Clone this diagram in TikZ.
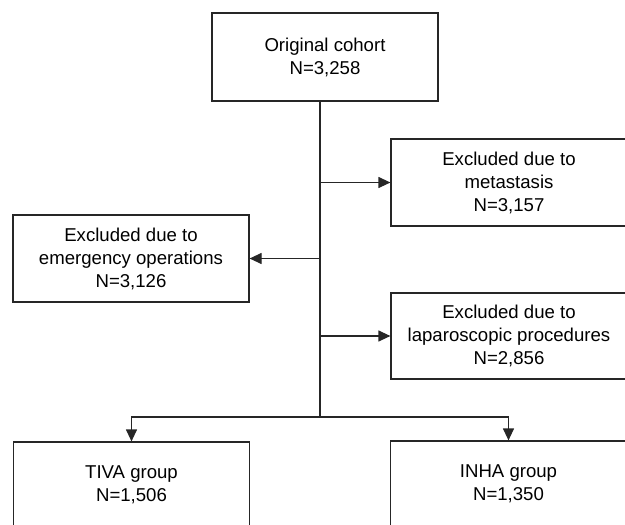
\documentclass[tikz,border=0pt]{standalone}
\usepackage{fontspec}
\setmainfont{Liberation Sans}
\usetikzlibrary{arrows.meta}

\begin{document}
\begin{tikzpicture}[x=1pt,y=-1pt]
\tikzset{
box/.style={draw=black!85,line width=1.2pt,align=center,inner sep=0pt,
  minimum width=236pt,minimum height=87pt,
  font=\fontsize{18.6}{23}\selectfont},
arr/.style={draw=black!85,line width=1.2pt,-{Triangle[length=12pt,width=11pt]}},
ln/.style={draw=black!85,line width=1.2pt}
}
\useasboundingbox (0,0) rectangle (625,525);
\clip (0,0) rectangle (625,525);

\node[box,minimum width=226pt,minimum height=88pt] (orig) at (325,57) {Original cohort\\N=3,258};
\node[box] (meta) at (509,182.5) {Excluded due to\\metastasis\\N=3,157};
\node[box] (emer) at (131,258.5) {Excluded due to\\emergency operations\\N=3,126};
\node[box,minimum height=86pt] (lapa) at (509,336) {Excluded due to\\laparoscopic procedures\\N=2,856};
\node[box,minimum height=86pt] (tiva) at (131.5,485) {TIVA group\\N=1,506};
\node[box,minimum height=86pt] (inha) at (508.5,484) {INHA group\\N=1,350};

\coordinate (branch) at (320,417);

\draw[ln] (orig.south -| branch) -- (branch);
\draw[arr] (meta.west -| branch) -- (meta.west);
\draw[arr] (emer.east -| branch) -- (emer.east);
\draw[arr] (lapa.west -| branch) -- (lapa.west);
\draw[arr] (branch) -| (tiva.north);
\draw[arr] (branch) -| (inha.north);
\end{tikzpicture}
\end{document}
